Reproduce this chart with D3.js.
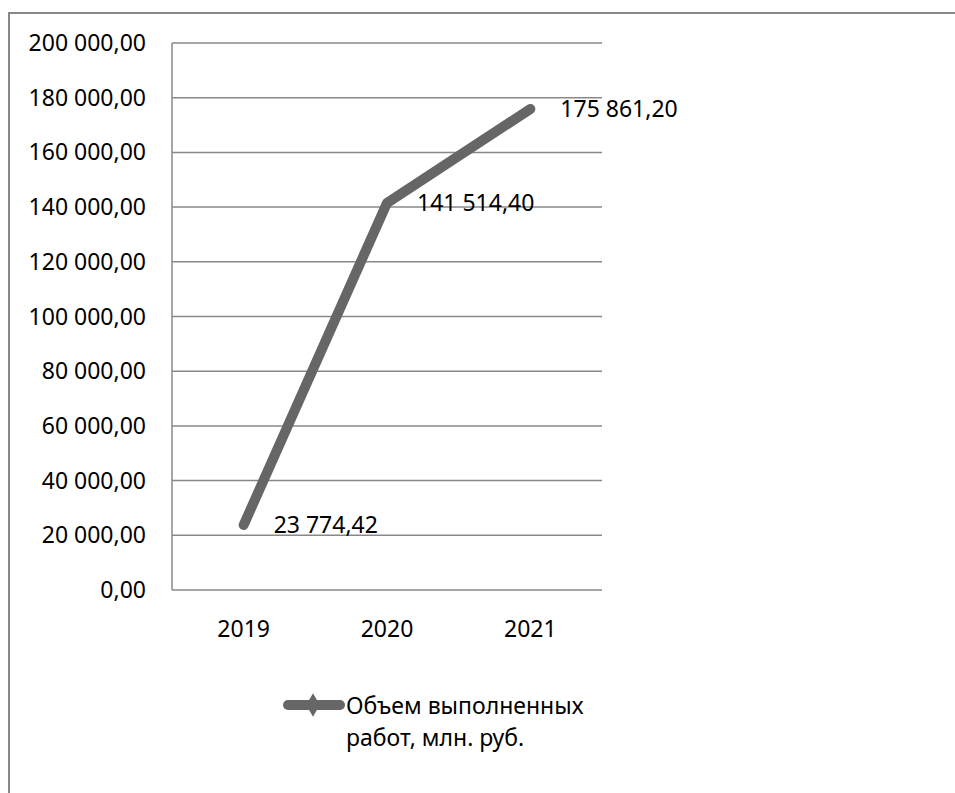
<!DOCTYPE html>
<html>
<head>
<meta charset="utf-8">
<script src="https://cdn.jsdelivr.net/npm/d3@7"></script>
<style>
  html, body { margin: 0; padding: 0; background: #fff; }
  svg { display: block; }
  text { font-family: "Noto Sans", "Open Sans", sans-serif; fill: #000; }
</style>
</head>
<body>
<script>
const categories = ["2019", "2020", "2021"];
const values = [23774.42, 141514.40, 175861.20];
const valueLabels = ["23 774,42", "141 514,40", "175 861,20"];
const yTicks = [0, 20000, 40000, 60000, 80000, 100000, 120000, 140000, 160000, 180000, 200000];
const yTickLabels = ["0,00", "20 000,00", "40 000,00", "60 000,00", "80 000,00", "100 000,00",
                     "120 000,00", "140 000,00", "160 000,00", "180 000,00", "200 000,00"];
const seriesName = ["Объем выполненных", "работ, млн. руб."];

const W = 955, H = 793;
const svg = d3.select("body").append("svg").attr("width", W).attr("height", H);

// outer chart border (right and bottom run off the picture)
svg.append("rect").attr("x", 9).attr("y", 13).attr("width", 960).attr("height", 800)
  .attr("fill", "none").attr("stroke", "#888").attr("stroke-width", 2);

const plotLeft = 172, plotRight = 602, plotTop = 43, plotBottom = 590;
const x = d3.scaleBand().domain(categories).range([plotLeft, plotRight]);
const y = d3.scaleLinear().domain([0, 200000]).range([plotBottom, plotTop]);

const fontSize = 23;

// gridlines
svg.append("g").selectAll("line").data(yTicks).join("line")
  .attr("x1", plotLeft).attr("x2", plotRight)
  .attr("y1", d => y(d)).attr("y2", d => y(d))
  .attr("stroke", "#888").attr("stroke-width", 1.5);

// axis line
svg.append("line").attr("x1", plotLeft).attr("x2", plotLeft).attr("y1", y(200000)).attr("y2", plotBottom)
  .attr("stroke", "#888").attr("stroke-width", 1.5);

// y tick labels
svg.append("g").selectAll("text").data(yTicks).join("text")
  .attr("x", 146).attr("y", d => y(d)).attr("dy", "0.35em")
  .attr("text-anchor", "end").attr("font-size", fontSize)
  .text((d, i) => yTickLabels[i]);

// x labels
svg.append("g").selectAll("text").data(categories).join("text")
  .attr("x", d => x(d) + x.bandwidth() / 2).attr("y", 637)
  .attr("text-anchor", "middle").attr("font-size", fontSize)
  .text(d => d);

// line
const pts = categories.map((c, i) => [x(c) + x.bandwidth() / 2, y(values[i])]);
svg.append("path").datum(pts)
  .attr("d", d3.line())
  .attr("fill", "none").attr("stroke", "#666").attr("stroke-width", 10)
  .attr("stroke-linecap", "round").attr("stroke-linejoin", "round");

// data labels
svg.append("g").selectAll("text").data(pts).join("text")
  .attr("x", d => d[0] + 30).attr("y", d => d[1]).attr("dy", "0.35em")
  .attr("font-size", fontSize)
  .text((d, i) => valueLabels[i]);

// legend
const lg = svg.append("g");
lg.append("line").attr("x1", 288).attr("x2", 340).attr("y1", 705).attr("y2", 705)
  .attr("stroke", "#666").attr("stroke-width", 10).attr("stroke-linecap", "round");
lg.append("path").attr("d", d3.symbol().type(d3.symbolDiamond).size(160)())
  .attr("transform", "translate(313,705)").attr("fill", "#666");
lg.append("text").attr("x", 346).attr("y", 714).attr("font-size", fontSize).text(seriesName[0]);
lg.append("text").attr("x", 346).attr("y", 746).attr("font-size", fontSize).text(seriesName[1]);
</script>
</body>
</html>
